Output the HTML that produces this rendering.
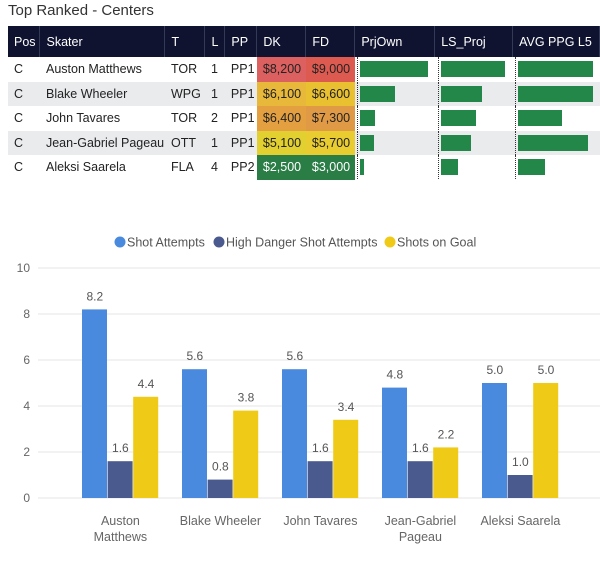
<!DOCTYPE html>
<html><head><meta charset="utf-8">
<style>
body{margin:0;width:600px;height:562px;background:#fff;font-family:"Liberation Sans",sans-serif;overflow:hidden;position:relative}
.title{position:absolute;left:8px;top:2px;font-size:15px;color:#333}
table{position:absolute;left:8px;top:26px;border-collapse:collapse;font-size:12.5px;color:#222;table-layout:fixed}
th{background:#0f1330;color:#fff;font-weight:normal;text-align:left;height:31px;padding:0 0 0 6px;border-right:1px solid #333a55}
td{height:24.5px;padding:0 0 0 6px;white-space:nowrap}
tr.alt td{background:#e9ebed}
td.c{color:#333}
</style></head><body>
<div class="title">Top Ranked - Centers</div>
<table>
<colgroup><col style="width:32px"><col style="width:125px"><col style="width:40px"><col style="width:20px"><col style="width:32px"><col style="width:49px"><col style="width:49px"><col style="width:80px"><col style="width:78px"><col style="width:87px"></colgroup>
<thead><tr><th>Pos</th><th>Skater</th><th>T</th><th>L</th><th>PP</th><th>DK</th><th>FD</th><th>PrjOwn</th><th>LS_Proj</th><th>AVG PPG L5</th></tr></thead>
<tbody id="tb"></tbody>
</table>
<svg id="chart" width="600" height="562" style="position:absolute;left:0;top:0;pointer-events:none"></svg>
<script>
const tPlayers=["Auston Matthews","Blake Wheeler","John Tavares","Jean-Gabriel Pageau","Aleksi Saarela"];
const tTeams=["TOR","WPG","TOR","OTT","FLA"];
const tLines=["1","1","2","1","4"];
const tPP=["PP1","PP1","PP1","PP1","PP2"];
const tDK=["$8,200","$6,100","$6,400","$5,100","$2,500"];
const tFD=["$9,000","$6,600","$7,300","$5,700","$3,000"];
const dkColors=["#dc6060","#e8b83a","#e4a040","#e2d030","#2a7d45"];
const fdColors=["#dc5a50","#e8c030","#e09a45","#e8cc30","#2a7d45"];
const prjOwn=[68,35,15,14,4];
const lsProj=[64,41,35,30,17];
const avgPPG=[75,75,44,70,27];
const tb=document.getElementById('tb');
function bar(v,max,w){return '<div style="position:relative;height:24px"><div style="position:absolute;left:-3px;top:0;bottom:0;border-left:1px dotted #333"></div><div style="position:absolute;left:0;top:4px;height:16px;width:'+(v/max*w)+'px;background:#23874a"></div></div>';}
tPlayers.forEach((p,i)=>{
 const tr=document.createElement('tr');
 
 
 if(i%2)tr.className='alt';
 const dkc=i==4?'#fff':'#222';
 tr.innerHTML='<td>C</td><td>'+p+'</td><td>'+tTeams[i]+'</td><td>'+tLines[i]+'</td><td>'+tPP[i]+'</td><td style="background:'+dkColors[i]+';color:'+dkc+'">'+tDK[i]+'</td><td style="background:'+fdColors[i]+';color:'+dkc+'">'+tFD[i]+'</td><td style="padding-left:5px">'+bar(prjOwn[i],100,100)+'</td><td style="padding-left:6px">'+bar(lsProj[i],100,100)+'</td><td style="padding-left:5px">'+bar(avgPPG[i],100,100)+'</td>';
 tb.appendChild(tr);
});

const categories=["Auston Matthews","Blake Wheeler","John Tavares","Jean-Gabriel Pageau","Aleksi Saarela"];
const catLines=[["Auston","Matthews"],["Blake Wheeler"],["John Tavares"],["Jean-Gabriel","Pageau"],["Aleksi Saarela"]];
const shotAttempts=[8.2,5.6,5.6,4.8,5.0];
const highDanger=[1.6,0.8,1.6,1.6,1.0];
const shotsOnGoal=[4.4,3.8,3.4,2.2,5.0];
const yTicks=[0,2,4,6,8,10];
const seriesNames=["Shot Attempts","High Danger Shot Attempts","Shots on Goal"];
const seriesColors=["#4a8ade","#4b5a8e","#efcb17"];

const svg=document.getElementById('chart');const NS='http://www.w3.org/2000/svg';
function el(t,a,txt){const e=document.createElementNS(NS,t);for(const k in a)e.setAttribute(k,a[k]);if(txt!=null)e.textContent=txt;svg.appendChild(e);return e;}
const y0=498,ppu=23;
const y=v=>y0-v*ppu;
const gx=i=>82+i*100;
const bw=25.6;
yTicks.forEach(t=>{
 const l=el('line',{x1:38,x2:600,y1:y(t),y2:y(t),stroke:'#e6e6e6','stroke-width':1});
 
 
 const tx=el('text',{x:30,y:y(t)+4,'text-anchor':'end','font-size':12,fill:'#666','font-family':'Liberation Sans'},t);
 
 
});
const series=[shotAttempts,highDanger,shotsOnGoal];
series.forEach((s,si)=>{
 s.forEach((v,i)=>{
  const x=gx(i)+si*bw;
  const r=el('rect',{x:x,y:y(v),width:bw-0.6,height:v*ppu,fill:seriesColors[si]});
  
  
  const t=el('text',{x:x+bw/2,y:y(v)-9,'text-anchor':'middle','font-size':12,fill:'#555','font-family':'Liberation Sans'},v.toFixed(1));
  
  
 });
});
catLines.forEach((ls,i)=>{
 ls.forEach((s,j)=>{
  const t=el('text',{x:gx(i)+bw*1.5,y:525+j*16,'text-anchor':'middle','font-size':12.5,fill:'#666','font-family':'Liberation Sans'},s);
  
  
 });
});
const lx=[126,225,396];
seriesNames.forEach((n,i)=>{
 const c=el('circle',{cx:lx[i]-6,cy:242,r:5.5,fill:seriesColors[i]});
 
 
 const t=el('text',{x:lx[i]+1,y:246.5,'font-size':12.5,fill:'#555','font-family':'Liberation Sans'},n);
 
 
});
</script>
</body></html>
